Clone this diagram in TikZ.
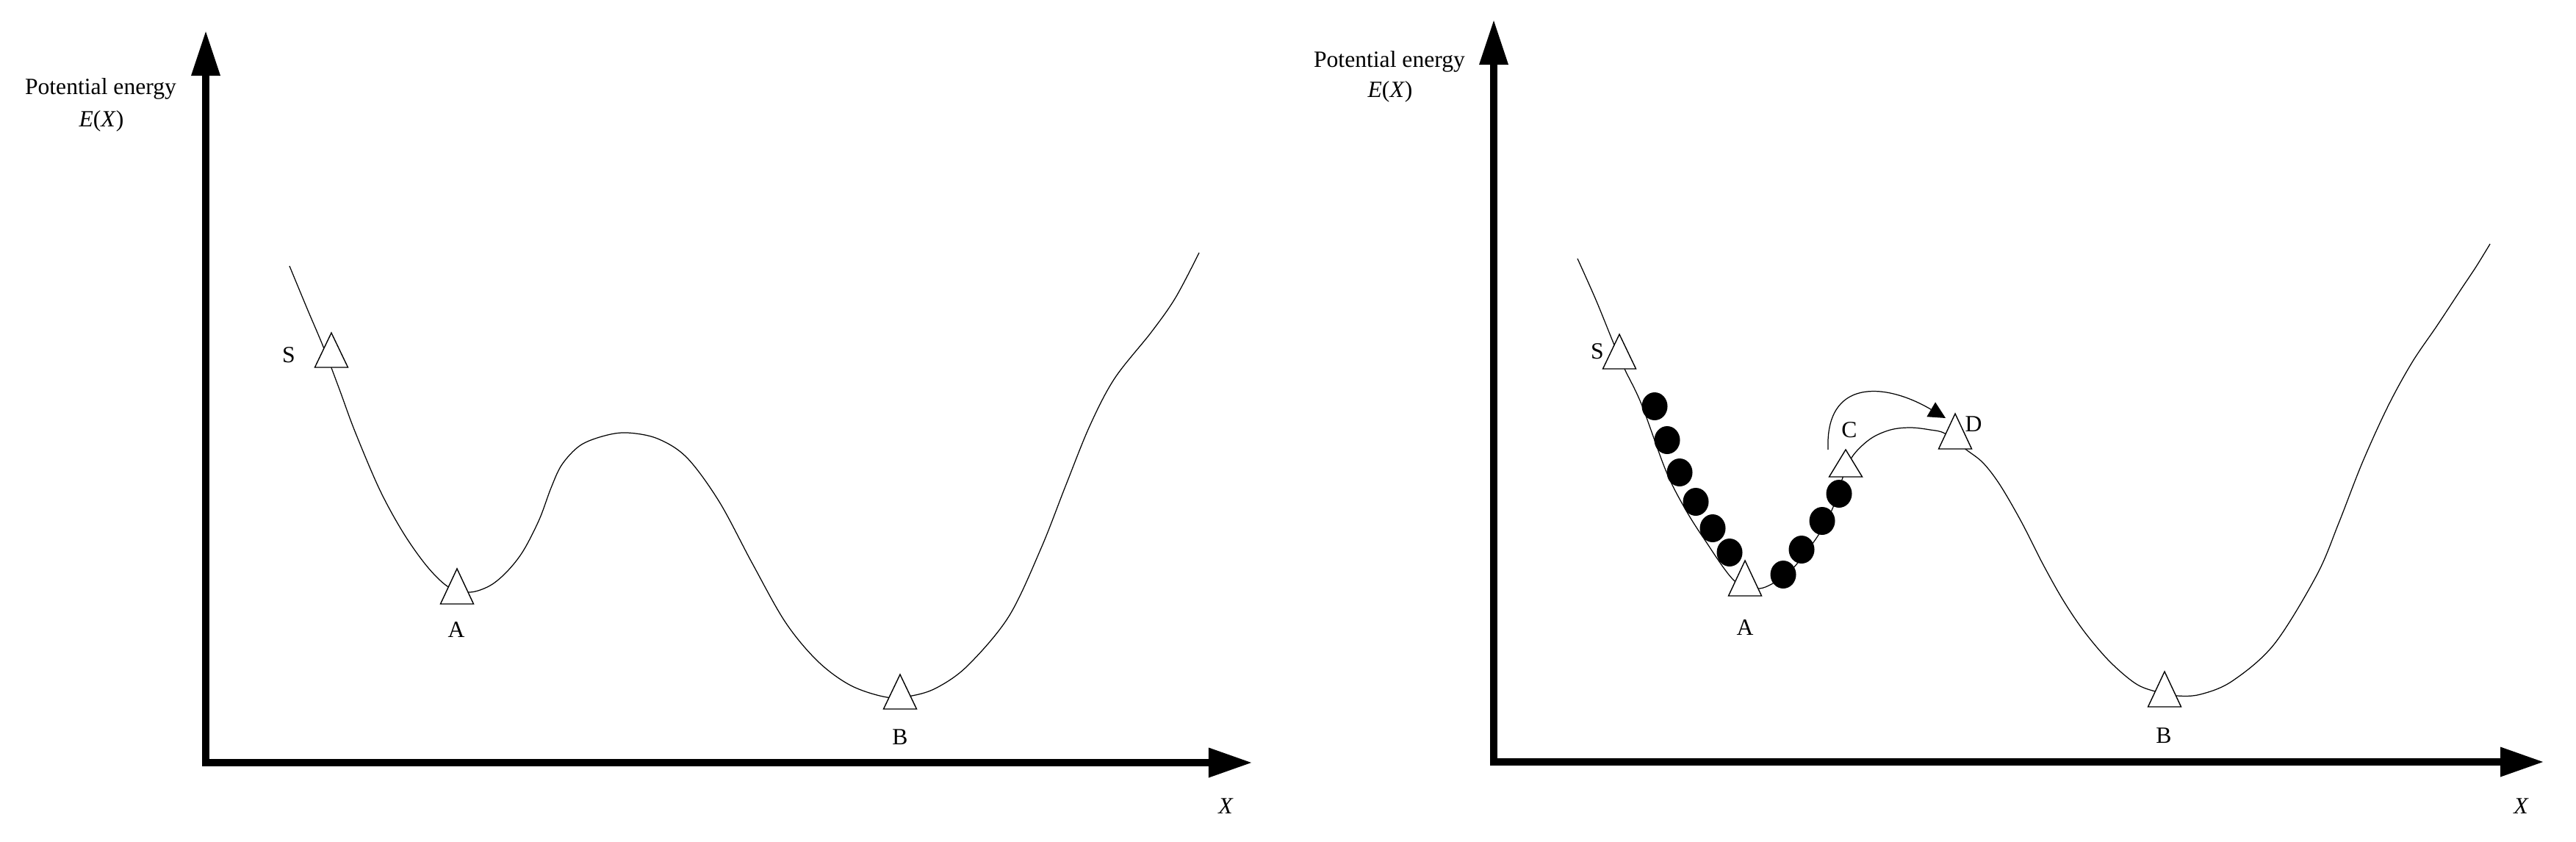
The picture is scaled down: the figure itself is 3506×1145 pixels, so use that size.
\documentclass[tikz,border=0pt]{standalone}
\usepackage{fontspec}
\setmainfont{Liberation Serif}
\usetikzlibrary{arrows.meta}
\newcommand\trimark[4]{%
  \draw[tri] (#2-22.5,#4) -- (#2,#3) -- (#2+22.5,#4) -- cycle;
  \coordinate (#1) at (#2,#4);}
\begin{document}
\begin{tikzpicture}[x=0.01cm,y=-0.01cm,
  axis/.style={line width=0.1cm, line join=miter,
    arrows={Triangle[length=0.6cm,width=0.4cm,line width=0pt]-Triangle[length=0.58cm,width=0.41cm,line width=0pt]}},
  curve/.style={line width=0.35pt},
  tri/.style={draw, fill=white, line width=0.4pt, line join=miter},
  lbl/.style={font=\fontsize{9pt}{11pt}\selectfont, inner sep=0pt},
  ball/.style={fill=black},
  jump/.style={line width=0.35pt, -{Triangle[length=0.23cm,width=0.23cm,line width=0pt]}}]
\useasboundingbox (0,0) rectangle (3506,1145);

% ---------- left panel ----------
\coordinate (LO) at (280,1038);
\coordinate (LY) at (280,43);
\coordinate (LX) at (1703,1038);
\draw[axis] (LY) -- (LO) -- (LX);
\node[lbl, anchor=base] (LPE) at (137,128) {Potential energy};
\node[lbl, anchor=base] (LEX) at (138,172) {\itshape E\/\upshape(\itshape X\/\upshape)};
\node[lbl] (LXl) at (1668,1097) {\itshape X};

\draw[curve] plot[smooth, tension=0.55] coordinates {
 (394,362) (418,420) (440,472) (462,530) (483,587) (517,667) (550,727) (583,773)
 (612,800) (640,806) (667,797) (690,778) (712,750) (734,707) (750,664) (765,632)
 (790,606) (823,593) (854,589) (895,597) (935,623) (979,683) (1024,767) (1069,847)
 (1113,900) (1158,933) (1207,949) (1241,947) (1275,936) (1317,906) (1373,839)
 (1417,746) (1450,662) (1483,580) (1517,515) (1567,452) (1600,405) (1632,344)};

\trimark{LS}{451}{453}{500}
\trimark{LA}{622}{774}{822}
\trimark{LB}{1225}{918}{965}
\node[lbl] (LSl) at (393,483) {S};
\node[lbl] (LAl) at (621,857) {A};
\node[lbl] (LBl) at (1225,1003) {B};

% ---------- right panel ----------
\coordinate (RO) at (2033,1037);
\coordinate (RY) at (2033,28);
\coordinate (RX) at (3461,1037);
\draw[axis] (RY) -- (RO) -- (RX);
\node[lbl, anchor=base] (RPE) at (1891,91) {Potential energy};
\node[lbl, anchor=base] (REX) at (1892,132) {\itshape E\/\upshape(\itshape X\/\upshape)};
\node[lbl] (RXl) at (3431,1097) {\itshape X};

\draw[curve] plot[smooth, tension=0.55] coordinates {
 (2147,352) (2172,408) (2196,467) (2211,502) (2234,550) (2267,640) (2292,690)
 (2319,733) (2361,791) (2395,801) (2427,785) (2446,767)
 (2475,728) (2495,690) (2508,650) (2522,620) (2546,597) (2573,585)
 (2600,582) (2627,585) (2647,590) (2676,612) (2699,630) (2722,660)
 (2751,710) (2780,767) (2808,817) (2837,860) (2871,900) (2906,930) (2933,941)
 (2963,947) (2995,945) (3038,927) (3095,877) (3153,783) (3183,712)
 (3215,630) (3250,553) (3283,493) (3317,443) (3350,393) (3370,363) (3389,332)};

\trimark{RS}{2204}{455}{502}
\trimark{RA}{2375}{763}{811}
\trimark{RC}{2512}{612}{649}
\trimark{RD}{2661}{563}{611}
\trimark{RB}{2946}{914}{962}
\node[lbl] (RSl) at (2174,478) {S};
\node[lbl] (RAl) at (2375,854) {A};
\node[lbl] (RCl) at (2517,585) {C};
\node[lbl] (RDl) at (2686,577) {D};
\node[lbl] (RBl) at (2945,1001) {B};

% balls
\foreach \bx/\by in {2252/553, 2269/599, 2286/643, 2308/683, 2331/719, 2354/752,
                     2427/782, 2452/748, 2480/709, 2503/672}
  \fill[ball] (\bx,\by) ellipse [x radius=17.5, y radius=19];

% jump arrow from C to D
\coordinate (JS) at (2488,612);
\coordinate (JE) at (2648,569);
\draw[jump] (JS) .. controls (2484,515) and (2565,520) .. (JE);
\end{tikzpicture}
\end{document}
